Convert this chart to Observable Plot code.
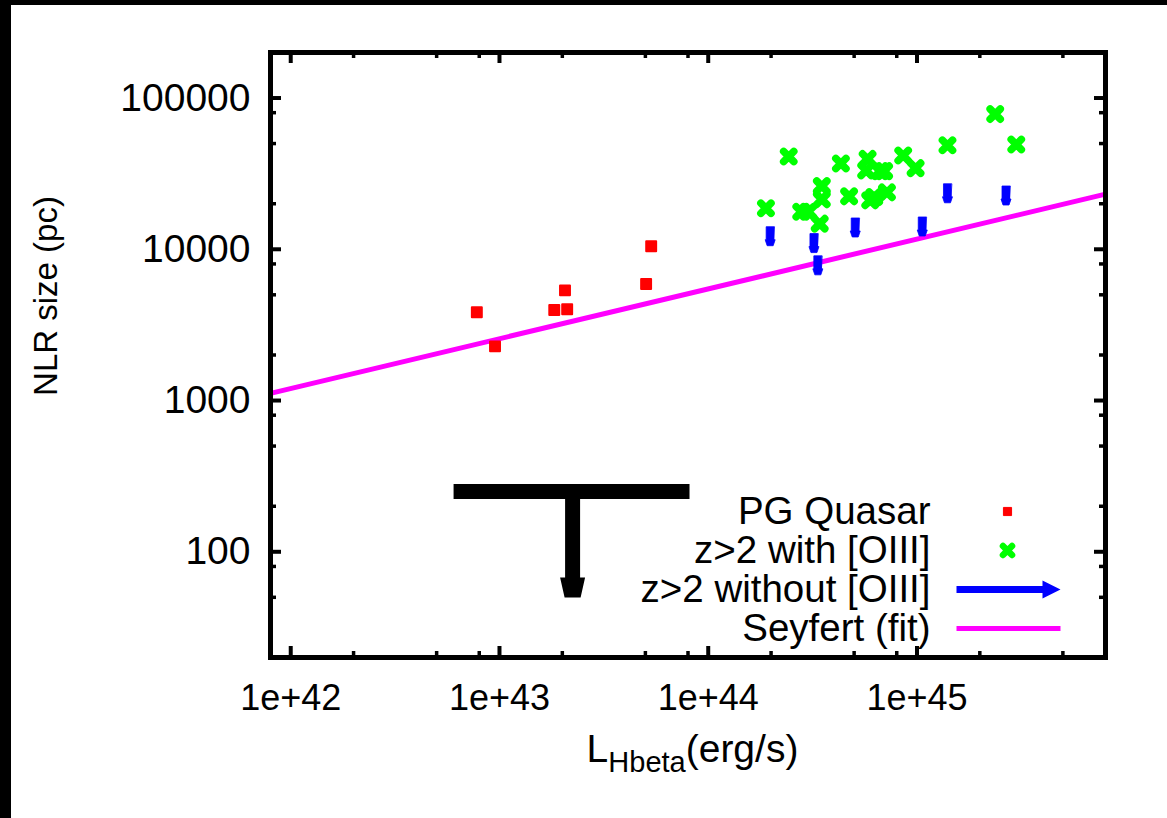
<!DOCTYPE html>
<html><head><meta charset="utf-8">
<script src="https://cdn.jsdelivr.net/npm/d3@7"></script>
<script src="https://cdn.jsdelivr.net/npm/@observablehq/plot@0.6"></script>
<style>
html,body{margin:0;padding:0;background:#fff;}
#wrap{width:1156px;height:813px;border-top:5px solid #000;border-left:11px solid #000;overflow:hidden;background:#fff;}
</style></head><body><div id="wrap"></div>
<script>
// PG Quasars: L_Hbeta (erg/s), NLR size (pc)
const pgL = [7.79e42, 9.52e42, 1.83e43, 2.11e43, 2.06e43, 5.04e43, 5.33e43];
const pgR = [3830, 2280, 3970, 4010, 5350, 5890, 10480];
// z>2 with [OIII]
const oiiiL = [1.89e44, 2.43e44, 2.79e44, 3.02e44, 3.42e44, 3.50e44, 3.50e44, 4.32e44, 4.73e44, 5.80e44, 5.71e44, 5.97e44, 6.24e44, 6.66e44, 6.96e44, 7.18e44, 8.59e44, 9.85e44, 1.40e45, 2.37e45, 2.99e45];
const oiiiR = [18660, 41050, 17720, 17720, 14770, 21380, 26160, 36910, 22380, 39580, 33200, 21060, 22140, 32850, 32850, 23780, 41680, 34380, 48730, 78340, 49260];
// z>2 without [OIII]: upper limits
const limL = [1.98e44, 3.21e44, 3.35e44, 5.06e44, 1.06e45, 1.40e45, 2.67e45];
const limR = [14100, 12700, 9050, 16100, 16350, 27100, 26200];
// Seyfert fit line end points
const fitL = [8e41, 8e45];
const fitR = [1115, 23170];
// upper-limit key symbol (T with down arrow)
const keyBarL = [6.06e42, 8.18e43];
const keyArrowL = [2.24e43];
const keyR = [250];
// axes
const xTicks = [1e42, 1e43, 1e44, 1e45];
const yTicks = [100, 1000, 10000, 100000];
const minorMult = [2, 5, 8];
const legendLabels = ["PG Quasar", "z>2 with [OIII]", "z>2 without [OIII]", "Seyfert (fit)"];
const xLabel = ["L", "Hbeta", "(erg/s)"];
const yLabel = "NLR size (pc)";

const xDomain = [8e41, 8e45], yDomain = [20, 2e5];
const W = 1156, H = 813, mL = 259, mR = 62, mT = 47, mB = 161;
const iW = W - mL - mR, iH = H - mT - mB;

const minor = (lo, hi, d0, d1) => {
  const out = [];
  for (let d = d0; d <= d1; d++) for (const m of minorMult) {
    const v = m * Math.pow(10, d);
    if (v > lo * 1.001 && v < hi * 0.999) out.push(v);
  }
  return out;
};
const xMinor = minor(xDomain[0], xDomain[1], 41, 45);
const yMinor = minor(yDomain[0], yDomain[1], 1, 5);

const pg = pgL.map((l, i) => ({l, r: pgR[i]}));
const oiii = oiiiL.map((l, i) => ({l, r: oiiiR[i]}));
const lim = limL.map((l, i) => ({l, r: limR[i]}));
const fit = fitL.map((l, i) => ({l, r: fitR[i]}));

function arrowShape(barW, headW1, headW2, headH) {
  return {
    draw(ctx, l) {
      const b = barW / 2, h1 = headW1 / 2, h2 = headW2 / 2, s = l - headH;
      ctx.moveTo(-b, 0); ctx.lineTo(b, 0); ctx.lineTo(b, -s);
      ctx.lineTo(h1, -s); ctx.lineTo(h2, -l); ctx.lineTo(-h2, -l);
      ctx.lineTo(-h1, -s); ctx.lineTo(-b, -s); ctx.closePath();
    }
  };
}

const lx = 660, ly0 = 459, lstep = 39, sx = 737;
const legendMarks = legendLabels.map((t, i) =>
  Plot.text([t], {frameAnchor: "top-left", dx: lx, dy: ly0 + lstep * i, textAnchor: "end", lineAnchor: "middle", fontSize: 38.5, fill: "#000"}));

const plot = Plot.plot({
  width: W, height: H,
  marginLeft: mL, marginRight: mR, marginTop: mT, marginBottom: mB,
  x: {type: "log", domain: xDomain},
  y: {type: "log", domain: yDomain},
  style: {fontFamily: "'Liberation Sans', Arial, sans-serif", fontSize: "36px", background: "#fff", color: "#000"},
  marks: [
    Plot.line(fit, {x: "l", y: "r", stroke: "#ff00ff", strokeWidth: 5}),
    Plot.dot(pg, {x: "l", y: "r", symbol: "square", r: 5.6, fill: "#ff0000", stroke: "#ff0000", strokeWidth: 2, strokeLinejoin: "round"}),
    Plot.dot(oiii, {x: "l", y: "r", symbol: "times", r: 4.7, stroke: "#00ff00", strokeWidth: 7.5, strokeLinecap: "round"}),
    Plot.vector(lim, {x: "l", y: "r", rotate: 180, length: 19, anchor: "start", shape: arrowShape(8, 10, 6, 6), fill: "#0000ff", stroke: "#0000ff", strokeWidth: 0.8}),
    // key symbol
    Plot.ruleY(keyR, {y: d => d, x1: keyBarL[0], x2: keyBarL[1], stroke: "#000", strokeWidth: 15}),
    Plot.vector(keyArrowL.map((l, i) => ({l, r: keyR[i]})), {x: "l", y: "r", rotate: 180, length: 106, anchor: "start", shape: arrowShape(15, 25, 16, 20), fill: "#000", stroke: "none"}),
    // legend
    ...legendMarks,
    Plot.dot([0], {frameAnchor: "top-left", dx: sx, dy: ly0, symbol: "square", r: 4.6, fill: "#ff0000", stroke: "#ff0000", strokeWidth: 1, strokeLinejoin: "round"}),
    Plot.dot([0], {frameAnchor: "top-left", dx: sx, dy: ly0 + lstep, symbol: "times", r: 4.2, stroke: "#00ff00", strokeWidth: 6.5, strokeLinecap: "round"}),
    Plot.vector([0], {frameAnchor: "top-left", dx: 686, dy: ly0 + 2 * lstep, rotate: 90, length: 104, anchor: "start", shape: arrowShape(7, 18, 0, 18), fill: "#0000ff", stroke: "none"}),
    Plot.vector([0], {frameAnchor: "top-left", dx: 686, dy: ly0 + 3 * lstep, rotate: 90, length: 104, anchor: "start", shape: arrowShape(5, 5, 5, 0), fill: "#ff00ff", stroke: "none"}),
    // ticks (inward, mirrored)
    Plot.ruleX(xTicks, {x: d => d, insetTop: iH - 11, stroke: "#000", strokeWidth: 4}),
    Plot.ruleX(xTicks, {x: d => d, insetBottom: iH - 11, stroke: "#000", strokeWidth: 4}),
    Plot.ruleX(xMinor, {x: d => d, insetTop: iH - 6, stroke: "#000", strokeWidth: 3.5}),
    Plot.ruleX(xMinor, {x: d => d, insetBottom: iH - 6, stroke: "#000", strokeWidth: 3.5}),
    Plot.ruleY(yTicks, {y: d => d, insetRight: iW - 11, stroke: "#000", strokeWidth: 4}),
    Plot.ruleY(yTicks, {y: d => d, insetLeft: iW - 11, stroke: "#000", strokeWidth: 4}),
    Plot.ruleY(yMinor, {y: d => d, insetRight: iW - 6, stroke: "#000", strokeWidth: 3.5}),
    Plot.ruleY(yMinor, {y: d => d, insetLeft: iW - 6, stroke: "#000", strokeWidth: 3.5}),
    Plot.frame({stroke: "#000", strokeWidth: 5}),
    Plot.axisX(xTicks, {tickSize: 0, tickPadding: 27, label: null, fontSize: 36, tickFormat: d => "1e+" + Math.round(Math.log10(d))}),
    Plot.axisY(yTicks, {tickSize: 0, tickPadding: 20, label: null, fontSize: 39, tickFormat: d => String(d)}),
    Plot.text([yLabel], {frameAnchor: "left", rotate: -90, dx: -224, dy: -59, fontSize: 33, textAnchor: "middle", lineAnchor: "middle", fill: "#000"})
  ]
});
document.getElementById("wrap").appendChild(plot);

// x-axis label with subscript
const t = d3.select(plot).append("text")
  .attr("x", mL + iW / 2 + 5).attr("y", 757)
  .attr("text-anchor", "middle").attr("font-size", 39).attr("fill", "#000");
t.append("tspan").text(xLabel[0]);
t.append("tspan").attr("font-size", 29).attr("dy", 10).text(xLabel[1]);
t.append("tspan").attr("dy", -10).text(xLabel[2]);
</script>
</body></html>
